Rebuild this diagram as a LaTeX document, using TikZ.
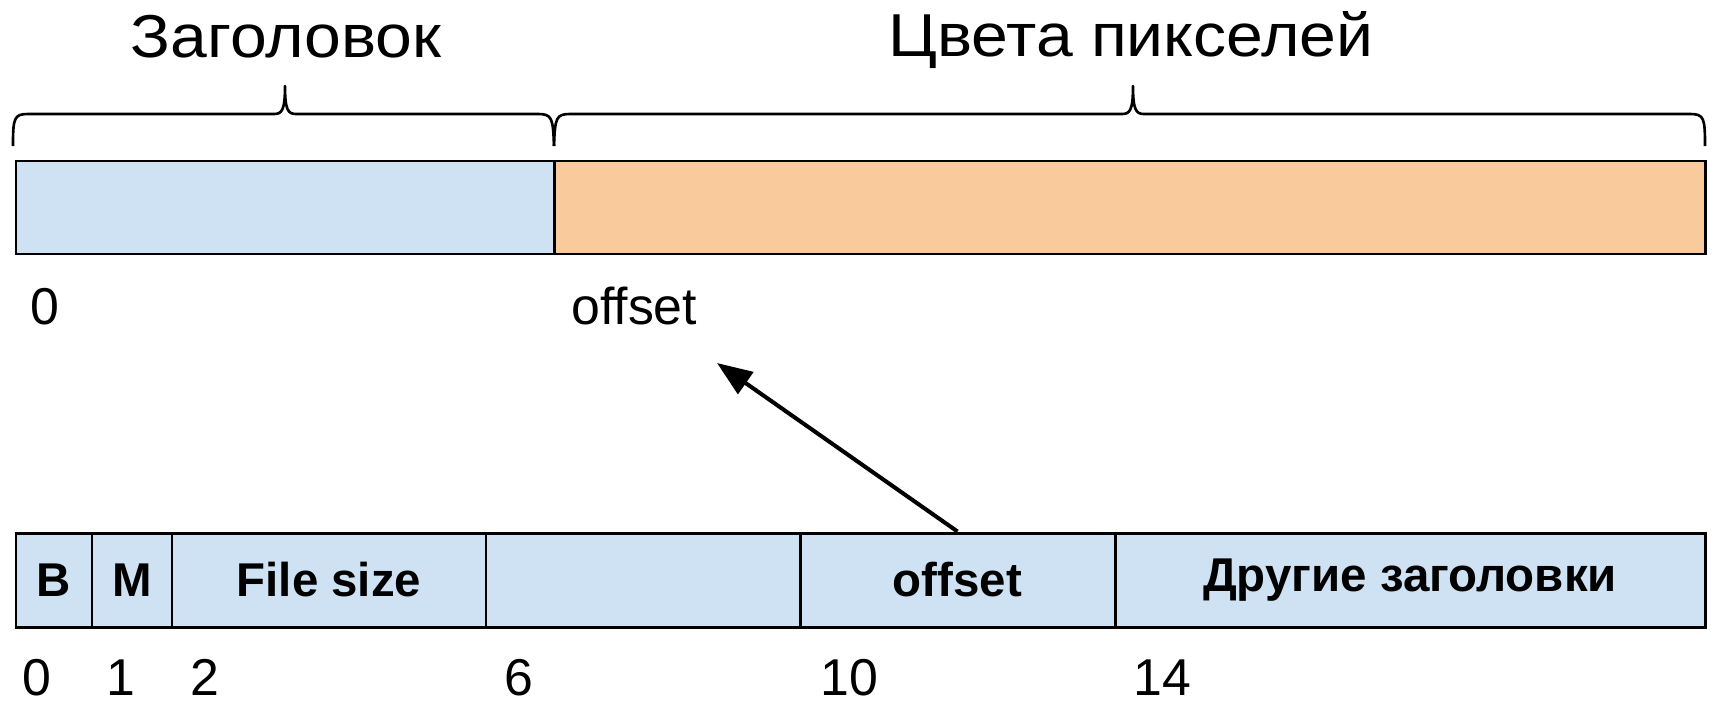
\documentclass[tikz,border=0pt]{standalone}
\usepackage{fontspec}
\setmainfont{Liberation Sans}
\newfontfamily\widetitle[FakeStretch=1.09]{Liberation Sans}
\usetikzlibrary{arrows.meta}
\definecolor{hdrblue}{HTML}{CFE2F3}
\definecolor{pixorange}{HTML}{F9CB9C}
\tikzset{
  px/.style={x=0.02cm,y=-0.02cm},
  barline/.style={draw=black,line width=1.7pt},
  cellbox/.style={barline,fill=hdrblue,minimum height=94*0.02cm,inner sep=0pt,font=\fontsize{27}{31}\selectfont\bfseries},
  title/.style={anchor=base,inner sep=0pt,font=\widetitle\fontsize{34.5}{40}\selectfont},
  numlbl/.style={anchor=base west,inner sep=0pt,font=\fontsize{29.5}{34}\selectfont},
  bracepath/.style={line width=1.5pt,line join=round},
  ptr/.style={line width=2.3pt,-{Triangle[length=20pt,width=15pt]}}
}
\begin{document}
\begin{tikzpicture}[px]
\useasboundingbox (0,0) rectangle (1717,703);
% titles
\node[title] (hdrT) at (286,57) {Заголовок};
\node[title] (pixT) at (1131,56) {Цвета пикселей};
% braces
\draw[bracepath] (13,146) .. controls (13,118) and (14,114) .. (28,114) -- (274,114)
  .. controls (282,114) and (285,110) .. (285,86) .. controls (285,110) and (288,114) .. (296,114)
  -- (538,114) .. controls (552,114) and (553,118) .. (554,146);
\draw[bracepath] (554,146) .. controls (555,118) and (556,114) .. (570,114) -- (1122,114)
  .. controls (1130,114) and (1133,110) .. (1133,86) .. controls (1133,110) and (1136,114) .. (1144,114)
  -- (1690,114) .. controls (1704,114) and (1705,118) .. (1705,146);
% top bar
\node[barline,fill=hdrblue,minimum width=538*0.02cm,minimum height=93*0.02cm,inner sep=0pt] (hdr) at (285,207.5) {};
\node[barline,fill=pixorange,minimum width=1151*0.02cm,minimum height=93*0.02cm,inner sep=0pt] (pix) at (1129.5,207.5) {};
\node[numlbl] (t0) at (30,324) {0};
\node[numlbl] (toff) at (571,324) {offset};
\coordinate (offtip) at (717,363);
% bottom bar
\node[cellbox,minimum width=76*0.02cm] (cB) at (54,580) {B};
\node[cellbox,minimum width=80*0.02cm] (cM) at (132,580) {M};
\node[cellbox,minimum width=314*0.02cm] (cFS) at (329,580) {File size};
\node[cellbox,minimum width=314*0.02cm] (cR) at (643,580) {};
\node[cellbox,minimum width=315*0.02cm] (cOff) at (957.5,580) {offset};
\node[cellbox,minimum width=590*0.02cm] (cOther) at (1410,580) {Другие заголовки};
% offsets
\node[numlbl] (b0) at (22,695) {0};
\node[numlbl] (b1) at (106,695) {1};
\node[numlbl] (b2) at (190,695) {2};
\node[numlbl] (b6) at (504,695) {6};
\node[numlbl] (b10) at (820,695) {10};
\node[numlbl] (b14) at (1133,695) {14};
% arrow
\draw[ptr] (cOff.north) -- (offtip);
\end{tikzpicture}
\end{document}
